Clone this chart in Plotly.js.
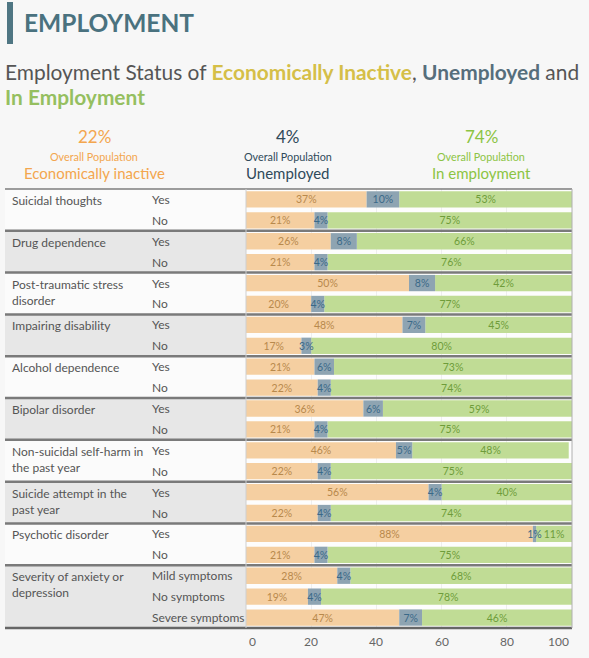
<!DOCTYPE html>
<html><head><meta charset="utf-8">
<script src="https://cdn.plot.ly/plotly-3.0.1.min.js"></script>
<style>html,body{margin:0;padding:0;background:#f7f7f7;}#chart{width:589px;height:658px;}</style>
</head><body><div id="chart"></div>
<script>
// ---------------- data ----------------
const groupLabels = ["Suicidal thoughts","Drug dependence","Post-traumatic stress<br>disorder","Impairing disability","Alcohol dependence","Bipolar disorder","Non-suicidal self-harm in<br>the past year","Suicide attempt in the<br>past year","Psychotic disorder","Severity of anxiety or<br>depression"];
const rowGroup = [0,0,1,1,2,2,3,3,4,4,5,5,6,6,7,7,8,8,9,9,9];
const responses = ["Yes","No","Yes","No","Yes","No","Yes","No","Yes","No","Yes","No","Yes","No","Yes","No","Yes","No","Mild symptoms","No symptoms","Severe symptoms"];
const inactive   = [37,21,26,21,50,20,48,17,21,22,36,21,46,22,56,22,88,21,28,19,47];
const unemployed = [10, 4, 8, 4, 8, 4, 7, 3, 6, 4, 6, 4, 5, 4, 4, 4, 1, 4, 4, 4, 7];
const employed   = [53,75,66,76,42,77,45,80,73,74,59,75,48,75,40,74,11,75,68,78,46];
const seriesNames = ["Economically inactive","Unemployed","In employment"];
const overallPct = [22,4,74];
const tickVals = [0,20,40,60,80,100];

// ---------------- geometry helpers ----------------
const W=589,H=658,L=246,R=572,T=189,B=628;
const px2x = p => (p-L)/(R-L);
const py2y = p => (B-p)/(B-T);
const FONT = "Lato, 'Open Sans', sans-serif";

const barColors = ["#f5cfa1","#8ea4b2","#c0dc95"];
const textColors = ["#b8894c","#3a6988","#6e9c3a"];
const headColors = ["#f3a64e","#2f4a5a","#8cc443"];
const rows = responses.map((_,i)=>i);
const series = [inactive,unemployed,employed];
// stacked bases (segments placed end to end)
const bases = [
  inactive.map(()=>0),
  inactive.slice(),
  inactive.map((v,i)=>v+unemployed[i])
];

function barTrace(k){
  const vals = series[k];
  return {
    type:'bar', orientation:'h', name:seriesNames[k],
    x: vals, base: bases[k], y: rows, width:0.78,
    marker:{color:barColors[k], line:{width:0}},
    text: vals.map(v=>v+'%'), textposition:'inside', insidetextanchor:'middle', textangle:0,
    textfont:{family:FONT,size:10.5,color:textColors[k]},
    hoverinfo:'skip', cliponaxis:true
  };
}
// draw unemployed last so its small labels sit on top
const traces = [barTrace(0), barTrace(2), barTrace(1)];

const shapes = [];
const annotations = [];
const nG = groupLabels.length;
for(let g=0; g<nG; g++){
  const idx = rowGroup.map((v,i)=>v===g?i:-1).filter(i=>i>=0);
  const first = idx[0], last = idx[idx.length-1];
  shapes.push({type:'rect', xref:'paper', yref:'y', x0:px2x(5), x1:0, y0:first-0.5, y1:last+0.5,
    fillcolor: g%2? '#e7e7e7':'#fbfbfb', line:{width:0}, layer:'below'});
  if(g>0){
    shapes.push({type:'line', xref:'paper', yref:'y', x0:px2x(5), x1:px2x(R), y0:first-0.5, y1:first-0.5,
      line:{color:'#7a7a7a', width:2.5}});
  }
  annotations.push({xref:'paper', yref:'y', x:px2x(10), y:first-0.5, yshift:-2, xanchor:'left', yanchor:'top', align:'left',
    text:groupLabels[g], showarrow:false, font:{family:FONT,size:12,color:'#555'}});
}
responses.forEach((r,i)=>{
  annotations.push({xref:'paper', yref:'y', x:px2x(150), y:i, xanchor:'left', yanchor:'middle',
    text:r, showarrow:false, font:{family:FONT,size:12,color:'#555'}});
});
shapes.push({type:'line', xref:'paper', yref:'paper', x0:px2x(5), x1:px2x(R), y0:1, y1:1, line:{color:'#7d7d7d',width:1.5}});
shapes.push({type:'line', xref:'paper', yref:'paper', x0:px2x(5), x1:px2x(R), y0:0, y1:0, line:{color:'#666',width:2.5}});
shapes.push({type:'line', xref:'paper', yref:'paper', x0:0, x1:0, y0:0, y1:1, line:{color:'#cfcfcf',width:1}});
shapes.push({type:'line', xref:'paper', yref:'paper', x0:1, x1:1, y0:0, y1:1, line:{color:'#b0b0b0',width:1}});
shapes.push({type:'rect', xref:'paper', yref:'paper', x0:px2x(7), x1:px2x(13), y0:py2y(44), y1:py2y(2), fillcolor:'#4f7683', line:{width:0}});

tickVals.forEach((t,i)=>{
  annotations.push({xref:'x', yref:'paper', x:t, y:py2y(641), xanchor: i===0?'left':(i===tickVals.length-1?'right':'center'),
    xshift: i===0?1:(i===tickVals.length-1?-1:0), yanchor:'middle', text:String(t), showarrow:false,
    font:{family:FONT,size:12,color:'#666'}});
});

annotations.push({xref:'paper', yref:'paper', x:px2x(22), y:py2y(23), xanchor:'left', yanchor:'middle',
  text:'<b>EMPLOYMENT</b>', showarrow:false, font:{family:FONT,size:24.5,color:'#4a727f'}});
annotations.push({xref:'paper', yref:'paper', x:px2x(3), y:py2y(72), xanchor:'left', yanchor:'middle',
  text:"Employment Status of <b><span style='color:#d5bf48'>Economically Inactive</span></b>, <b><span style='color:#566e7c'>Unemployed</span></b> and",
  showarrow:false, font:{family:FONT,size:20.9,color:'#555'}});
annotations.push({xref:'paper', yref:'paper', x:px2x(3), y:py2y(96), xanchor:'left', yanchor:'middle',
  text:"<b>In Employment</b>", showarrow:false, font:{family:FONT,size:20.9,color:'#95bf60'}});

const colX = [94,288,481];
seriesNames.forEach((n,k)=>{
  annotations.push({xref:'paper', yref:'paper', x:px2x(colX[k]), y:py2y(137), xanchor:'center', yanchor:'middle',
    text: overallPct[k]+'%', showarrow:false, font:{family:FONT,size:17,color:headColors[k]}});
  annotations.push({xref:'paper', yref:'paper', x:px2x(colX[k]), y:py2y(156), xanchor:'center', yanchor:'middle',
    text:'Overall Population', showarrow:false, font:{family:FONT,size:10.8,color:headColors[k]}});
  annotations.push({xref:'paper', yref:'paper', x:px2x(colX[k]), y:py2y(173), xanchor:'center', yanchor:'middle',
    text:n, showarrow:false, font:{family:FONT,size:15,color:headColors[k]}});
});

const layout = {
  width:W, height:H,
  margin:{l:L, r:W-R, t:T, b:H-B, pad:0},
  paper_bgcolor:'#f7f7f7', plot_bgcolor:'#fdfdfd',
  barmode:'overlay', showlegend:false,
  uniformtext:{mode:'show', minsize:10.5},
  xaxis:{range:[0,100], tickvals:tickVals, showticklabels:false, ticks:'', showgrid:true, gridcolor:'#eeeeee',
    zeroline:false, showline:false, fixedrange:true},
  yaxis:{range:[20.5,-0.5], visible:false, showgrid:false, zeroline:false, fixedrange:true},
  shapes:shapes, annotations:annotations,
  font:{family:FONT}
};
Plotly.newPlot('chart', traces, layout, {displayModeBar:false, staticPlot:true});
</script></body></html>
